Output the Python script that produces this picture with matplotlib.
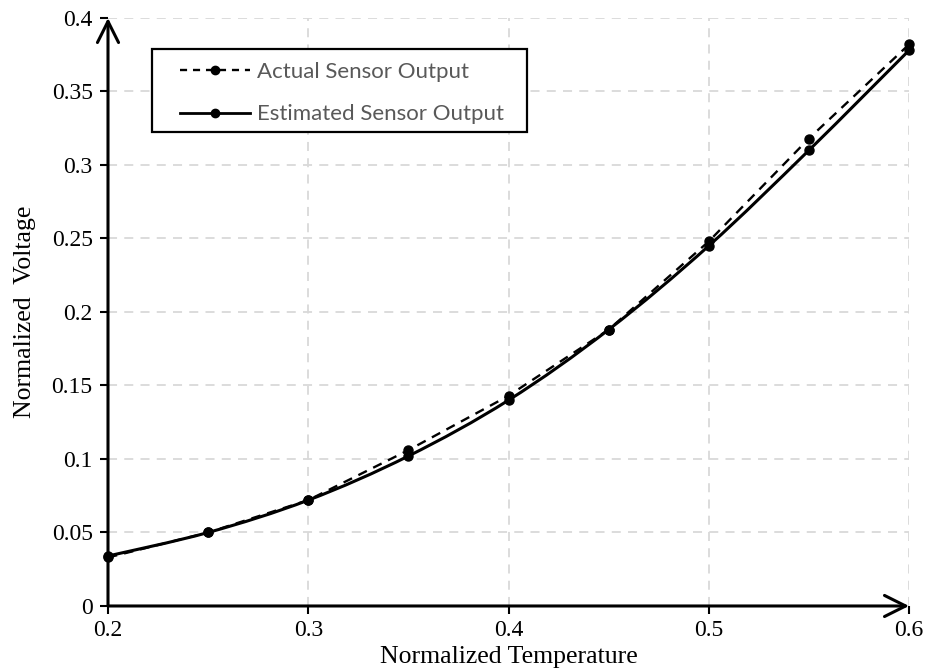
import numpy as np
import matplotlib
matplotlib.use("Agg")
import matplotlib.pyplot as plt
from matplotlib.path import Path
from matplotlib.patches import PathPatch, Rectangle
from matplotlib.lines import Line2D

# donnees
temperature = [0.2, 0.25, 0.3, 0.35, 0.4, 0.45, 0.5, 0.55, 0.6]
actual = [0.033, 0.050, 0.072, 0.106, 0.143, 0.188, 0.248, 0.318, 0.382]
estimated = [0.034, 0.050, 0.072, 0.102, 0.140, 0.188, 0.245, 0.310, 0.378]

x_ticks = [0.2, 0.3, 0.4, 0.5, 0.6]
x_labels = ["0.2", "0.3", "0.4", "0.5", "0.6"]
y_ticks = [0, 0.05, 0.1, 0.15, 0.2, 0.25, 0.3, 0.35, 0.4]
y_labels = ["0", "0.05", "0.1", "0.15", "0.2", "0.25", "0.3", "0.35", "0.4"]


def courbe_lisse(x, y):
	# Catmull-Rom -> Bezier cubique (comme les courbes lissees d'Excel)
	x = np.asarray(x, float)
	y = np.asarray(y, float)
	pts = np.column_stack([x, y])
	verts = [pts[0]]
	codes = [Path.MOVETO]
	n = len(pts)
	for i in range(n - 1):
		p0 = pts[i - 1] if i > 0 else pts[i]
		p1 = pts[i]
		p2 = pts[i + 1]
		p3 = pts[i + 2] if i + 2 < n else pts[i + 1]
		c1 = p1 + (p2 - p0) / 6.0
		c2 = p2 - (p3 - p1) / 6.0
		verts += [c1, c2, p2]
		codes += [Path.CURVE4] * 3
	return Path(verts, codes)


plt.rcParams["font.family"] = ["Liberation Serif", "DejaVu Serif"]

fig = plt.figure(figsize=(9.27, 6.69), dpi=100)
ax = fig.add_axes([0.1165, 0.0942, 0.8641, 0.8789])

# grille
ax.set_xlim(0.2, 0.6)
ax.set_ylim(0, 0.4)
ax.set_xticks(x_ticks)
ax.set_xticklabels(x_labels)
ax.set_yticks(y_ticks)
ax.set_yticklabels(y_labels)
ax.grid(True, color="#d9d9d9", linestyle=(0, (5, 4)), linewidth=1.3)
ax.set_axisbelow(True)
ax.tick_params(axis="both", direction="out", length=6, width=1.5, labelsize=17, color="black")
ax.tick_params(axis="x", pad=4)
ax.tick_params(axis="y", pad=5)

for s in ax.spines.values():
	s.set_visible(False)

# axes avec fleches
ax.annotate("", xy=(0.6, 0), xytext=(0.2, 0), xycoords="data",
		arrowprops=dict(arrowstyle="->", lw=2.2, color="black", mutation_scale=38,
				shrinkA=0, shrinkB=0), annotation_clip=False)
ax.annotate("", xy=(0.2, 0.4), xytext=(0.2, 0), xycoords="data",
		arrowprops=dict(arrowstyle="->", lw=2.2, color="black", mutation_scale=38,
				shrinkA=0, shrinkB=0), annotation_clip=False)

# courbes
ax.plot(temperature, actual, color="black", linestyle=(0, (4, 3)), linewidth=1.7,
		marker="o", markersize=6.5, clip_on=False, zorder=3)
ax.add_patch(PathPatch(courbe_lisse(temperature, estimated), facecolor="none",
		edgecolor="black", linewidth=2.2, zorder=3, clip_on=False))
ax.plot(temperature, estimated, linestyle="none", color="black",
		marker="o", markersize=6.5, clip_on=False, zorder=4)

ax.set_xlabel("Normalized Temperature", fontsize=18.5, labelpad=4)
ax.set_ylabel("Normalized  Voltage", fontsize=18.5, labelpad=11)

# legende : cadre dessine a part
ax.add_patch(Rectangle((0.055, 0.806), 0.468, 0.141, transform=ax.transAxes,
		facecolor="white", edgecolor="black", linewidth=1.6, zorder=5))
handles = [
	Line2D([], [], color="black", linestyle=(0, (3, 2.5)), linewidth=1.7, marker="o", markersize=6),
	Line2D([], [], color="black", linestyle="-", linewidth=2, marker="o", markersize=6),
]
leg = ax.legend(handles, ["Actual Sensor Output", "Estimated Sensor Output"],
		loc="upper left", bbox_to_anchor=(0.0899, 0.925), frameon=False,
		handlelength=3.15, handletextpad=0.3, borderpad=0, borderaxespad=0,
		labelspacing=1.0, prop={"family": "Lato", "size": 16})
leg.set_zorder(6)
for t in leg.get_texts():
	t.set_color("#595959")

fig.savefig("out.png", dpi=100)
